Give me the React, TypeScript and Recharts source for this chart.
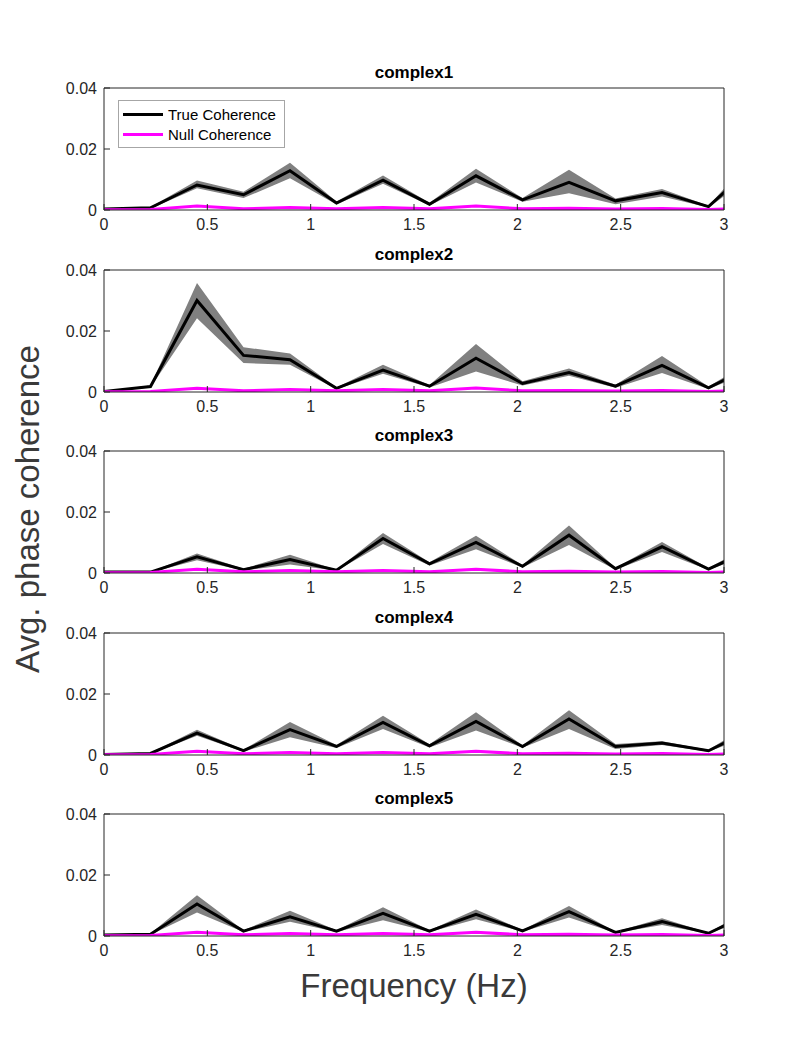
import { Area, ComposedChart, Legend, Line, XAxis, YAxis } from "recharts";

// frequency bins (Hz); the last bin lies past the axis and is clipped
const frequency = [0, 0.225, 0.45, 0.675, 0.9, 1.125, 1.35, 1.575, 1.8, 2.025, 2.25, 2.475, 2.7, 2.925, 3.15];

const xTicks = [0, 0.5, 1, 1.5, 2, 2.5, 3];
const yTicks = [0, 0.02, 0.04];

const titles = ["complex1", "complex2", "complex3", "complex4", "complex5"];
const legendOrder = ["True Coherence", "Null Coherence"];

// complex1
const true1 = [0.0003, 0.0007, 0.0082, 0.005, 0.0129, 0.0023, 0.0098, 0.0019, 0.0112, 0.0033, 0.0091, 0.003, 0.0057, 0.0011, 0.015];
const low1 = [0.0001, 0.0004, 0.0071, 0.0039, 0.0104, 0.0018, 0.0086, 0.0015, 0.009, 0.0027, 0.0055, 0.0019, 0.0044, 0.0008, 0.012];
const high1 = [0.0005, 0.001, 0.0097, 0.006, 0.0155, 0.0028, 0.0113, 0.0024, 0.0135, 0.0039, 0.0132, 0.0038, 0.0069, 0.0014, 0.018];
const null1 = [0.0001, 0.0002, 0.0013, 0.0004, 0.0008, 0.0004, 0.0008, 0.0004, 0.0013, 0.0004, 0.0006, 0.0003, 0.0005, 0.0002, 0.0006];

// complex2
const true2 = [0.0002, 0.0018, 0.03, 0.012, 0.0106, 0.0012, 0.0072, 0.0019, 0.0111, 0.0028, 0.0064, 0.0019, 0.0087, 0.0014, 0.0089];
const low2 = [0.0001, 0.0015, 0.0242, 0.0095, 0.0089, 0.0009, 0.006, 0.0015, 0.0067, 0.0021, 0.0053, 0.0014, 0.0062, 0.001, 0.007];
const high2 = [0.0003, 0.0021, 0.0357, 0.0147, 0.0126, 0.0015, 0.0089, 0.0023, 0.0157, 0.0035, 0.0077, 0.0024, 0.0118, 0.0018, 0.011];
const null2 = [0.0001, 0.0002, 0.0012, 0.0004, 0.0008, 0.0004, 0.0008, 0.0004, 0.0013, 0.0004, 0.0005, 0.0003, 0.0005, 0.0002, 0.0006];

// complex3
const true3 = [0.0003, 0.0003, 0.0053, 0.0011, 0.0044, 0.0009, 0.0113, 0.003, 0.01, 0.0022, 0.0124, 0.0014, 0.0086, 0.0013, 0.0082];
const low3 = [0.0002, 0.0002, 0.0042, 0.0008, 0.0028, 0.0007, 0.0095, 0.0025, 0.0078, 0.0018, 0.0092, 0.0011, 0.0069, 0.001, 0.0065];
const high3 = [0.0004, 0.0004, 0.0064, 0.0014, 0.006, 0.0011, 0.0131, 0.0035, 0.0122, 0.0026, 0.0156, 0.0017, 0.0102, 0.0016, 0.01];
const null3 = [0.0001, 0.0002, 0.0012, 0.0004, 0.0008, 0.0004, 0.0008, 0.0004, 0.0012, 0.0004, 0.0006, 0.0003, 0.0005, 0.0002, 0.0006];

// complex4
const true4 = [0.0002, 0.0005, 0.0072, 0.0014, 0.0083, 0.0028, 0.0107, 0.003, 0.011, 0.0028, 0.0118, 0.0028, 0.0039, 0.0014, 0.0089];
const low4 = [0.0001, 0.0003, 0.0063, 0.0011, 0.0058, 0.0023, 0.0085, 0.0025, 0.008, 0.0024, 0.0085, 0.002, 0.0033, 0.0011, 0.007];
const high4 = [0.0003, 0.0007, 0.0083, 0.0017, 0.0108, 0.0033, 0.0129, 0.0035, 0.014, 0.0032, 0.0147, 0.0036, 0.0045, 0.0017, 0.011];
const null4 = [0.0001, 0.0002, 0.0012, 0.0004, 0.0008, 0.0004, 0.0008, 0.0004, 0.0012, 0.0004, 0.0006, 0.0003, 0.0005, 0.0002, 0.0006];

// complex5
const true5 = [0.0003, 0.0006, 0.0105, 0.0016, 0.0063, 0.0016, 0.0074, 0.0016, 0.0071, 0.0017, 0.008, 0.0012, 0.0047, 0.0009, 0.0081];
const low5 = [0.0002, 0.0004, 0.0077, 0.0013, 0.0047, 0.0013, 0.0052, 0.0013, 0.0055, 0.0014, 0.0061, 0.001, 0.0036, 0.0007, 0.0065];
const high5 = [0.0004, 0.0008, 0.0134, 0.0019, 0.0083, 0.0019, 0.0094, 0.0019, 0.0087, 0.002, 0.0098, 0.0014, 0.0058, 0.0011, 0.0098];
const null5 = [0.0001, 0.0002, 0.0012, 0.0004, 0.0008, 0.0004, 0.0008, 0.0004, 0.0012, 0.0004, 0.0006, 0.0003, 0.0005, 0.0002, 0.0006];

const panels = [
  { mean: true1, low: low1, high: high1, nul: null1 },
  { mean: true2, low: low2, high: high2, nul: null2 },
  { mean: true3, low: low3, high: high3, nul: null3 },
  { mean: true4, low: low4, high: high4, nul: null4 },
  { mean: true5, low: low5, high: high5, nul: null5 },
];

const FONT = '"Liberation Sans", Arial, Helvetica, sans-serif';
const AXIS = "#262626";
const PLOT_TOP = [88, 269.5, 451, 632.5, 814];
const MARGIN_TOP = 30;

const LegendBox = (props: any) => {
  const items = (props.payload || [])
    .filter((p: any) => legendOrder.includes(p.value))
    .sort((a: any, b: any) => legendOrder.indexOf(a.value) - legendOrder.indexOf(b.value));
  return (
    <div
      style={{
        border: "1px solid #a6a6a6",
        background: "#fff",
        padding: "3px 8px 3px 4px",
        fontFamily: FONT,
        fontSize: 15,
        color: "#000",
        display: "inline-block",
      }}
    >
      {items.map((it: any) => (
        <div key={it.value} style={{ display: "flex", alignItems: "center", height: 20 }}>
          <span style={{ display: "inline-block", width: 40, height: 3, background: it.color, marginRight: 5 }} />
          <span>{it.value}</span>
        </div>
      ))}
    </div>
  );
};

const Panel = ({ index }: { index: number }) => {
  const p = panels[index];
  const data = frequency.map((f, i) => ({
    f,
    band: [p.low[i], p.high[i]],
    mean: p.mean[i],
    nul: p.nul[i],
  }));
  const top = PLOT_TOP[index];
  return (
    <>
      <div
        style={{
          position: "absolute",
          left: 104,
          width: 620,
          top: top - 24,
          textAlign: "center",
          fontFamily: FONT,
          fontWeight: "bold",
          fontSize: 17,
          lineHeight: "17px",
          color: "#000",
        }}
      >
        {titles[index]}
      </div>
      <div style={{ position: "absolute", left: 0, top: top - MARGIN_TOP }}>
        <ComposedChart
          width={800}
          height={177}
          data={data}
          margin={{ top: MARGIN_TOP - 1, right: 75, bottom: 0, left: 54 }}
        >
          <XAxis
            xAxisId="b"
            dataKey="f"
            type="number"
            domain={[0, 3]}
            ticks={xTicks}
            interval={0}
            allowDataOverflow
            height={25}
            tickSize={-6}
            tickMargin={15}
            stroke={AXIS}
            tick={{ fill: AXIS, fontSize: 16, fontFamily: FONT }}
          />
          <XAxis
            xAxisId="t"
            dataKey="f"
            orientation="top"
            type="number"
            domain={[0, 3]}
            ticks={xTicks}
            interval={0}
            allowDataOverflow
            height={1}
            tickSize={-6}
            tick={false}
            stroke={AXIS}
          />
          <YAxis
            yAxisId="l"
            type="number"
            domain={[0, 0.04]}
            ticks={yTicks}
            interval={0}
            allowDataOverflow
            width={50}
            tickSize={-6}
            tickMargin={13}
            stroke={AXIS}
            tick={{ fill: AXIS, fontSize: 16, fontFamily: FONT }}
          />
          <YAxis
            yAxisId="r"
            orientation="right"
            type="number"
            domain={[0, 0.04]}
            ticks={yTicks}
            interval={0}
            allowDataOverflow
            width={1}
            tickSize={-6}
            tick={false}
            stroke={AXIS}
          />
          <Area
            xAxisId="t"
            yAxisId="r"
            type="linear"
            dataKey="band"
            fill="#808080"
            fillOpacity={1}
            stroke="none"
            legendType="none"
            isAnimationActive={false}
          />
          <Line
            xAxisId="b"
            yAxisId="l"
            type="linear"
            dataKey="mean"
            name="True Coherence"
            stroke="#000000"
            strokeWidth={3}
            dot={false}
            isAnimationActive={false}
          />
          <Line
            xAxisId="b"
            yAxisId="l"
            type="linear"
            dataKey="nul"
            name="Null Coherence"
            stroke="#ff00ff"
            strokeWidth={3}
            dot={false}
            isAnimationActive={false}
          />
          {index === 0 && (
            <Legend
              layout="horizontal"
              verticalAlign="middle"
              align="center"
              wrapperStyle={{ left: 118, top: 42, width: "auto" }}
              content={LegendBox}
            />
          )}
        </ComposedChart>
      </div>
    </>
  );
};

export default function App() {
  return (
    <div style={{ position: "absolute", left: 0, top: 0, width: 800, height: 1051, background: "#fff" }}>
      {titles.map((t, i) => (
        <Panel key={t} index={i} />
      ))}
      <div
        style={{
          position: "absolute",
          left: 28,
          top: 509,
          transform: "translate(-50%, -50%) rotate(-90deg)",
          whiteSpace: "nowrap",
          fontFamily: FONT,
          fontSize: 33,
          color: "#3a3a3a",
        }}
      >
        Avg. phase coherence
      </div>
      <div
        style={{
          position: "absolute",
          left: 414,
          top: 986,
          transform: "translate(-50%, -50%)",
          whiteSpace: "nowrap",
          fontFamily: FONT,
          fontSize: 33,
          color: "#3a3a3a",
        }}
      >
        Frequency (Hz)
      </div>
    </div>
  );
}
